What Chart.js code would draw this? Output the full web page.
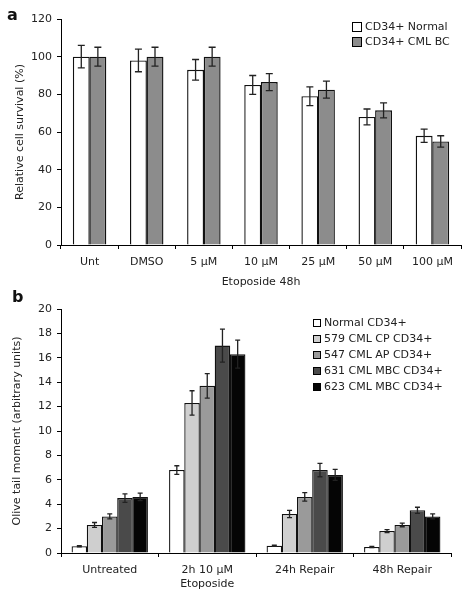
<!DOCTYPE html>
<html>
<head>
<meta charset="utf-8">
<script src="https://cdn.jsdelivr.net/npm/chart.js@4.4.1/dist/chart.umd.min.js"></script>
<style>
  html, body { margin: 0; padding: 0; background: #fff; }
  #wrapA { position: absolute; left: 0; top: 0; width: 470px; height: 290px; }
  #wrapB { position: absolute; left: 0; top: 290px; width: 470px; height: 310px; }
</style>
</head>
<body>
<div id="wrapA"><canvas id="chartA"></canvas></div>
<div id="wrapB"><canvas id="chartB"></canvas></div>
<script>
// panel a data
const labelsA = ['Unt', 'DMSO', '5 µM', '10 µM', '25 µM', '50 µM', '100 µM'];
const normalA = [100, 98, 93, 85, 79, 68, 58];
const normalErrA = [6, 6, 5.5, 5, 5, 4.2, 3.5];
const cmlA = [100, 100, 100, 86.5, 82.5, 71.5, 55];
const cmlErrA = [5, 5, 5, 4.5, 4.5, 4, 3];
const ticksA = [0, 20, 40, 60, 80, 100, 120];

// panel b data
const labelsB = ['Untreated', ['2h 10 µM', 'Etoposide'], '24h Repair', '48h Repair'];
const normalB = [0.55, 6.8, 0.6, 0.5];
const normalErrB = [0.05, 0.35, 0.05, 0.05];
const cpB = [2.3, 12.3, 3.2, 1.8];
const cpErrB = [0.2, 1.0, 0.3, 0.12];
const apB = [3.0, 13.7, 4.6, 2.3];
const apErrB = [0.2, 1.0, 0.35, 0.15];
const mbc631B = [4.5, 17.0, 6.8, 3.5];
const mbc631ErrB = [0.35, 1.35, 0.55, 0.25];
const mbc623B = [4.6, 16.3, 6.4, 3.0];
const mbc623ErrB = [0.3, 1.15, 0.45, 0.2];
const ticksB = [0, 2, 4, 6, 8, 10, 12, 14, 16, 18, 20];

Chart.defaults.font.family = 'DejaVu Sans';
Chart.defaults.font.size = 11;
Chart.defaults.color = '#222';
Chart.defaults.animation = false;

// error bars from dataset.errors
const errorBars = {
    id: 'errorBars',
    afterDatasetsDraw(chart, args, opts) {
        const ctx = chart.ctx;
        const y = chart.scales.y;
        ctx.save();
        ctx.strokeStyle = '#222';
        ctx.lineWidth = 1.3;
        chart.data.datasets.forEach((ds, di) => {
            const meta = chart.getDatasetMeta(di);
            meta.data.forEach((bar, i) => {
                const v = ds.data[i], e = ds.errors[i];
                const hi = y.getPixelForValue(v + e), lo = y.getPixelForValue(v - e);
                const c = opts.cap || 3;
                ctx.beginPath();
                ctx.moveTo(bar.x, hi); ctx.lineTo(bar.x, lo);
                ctx.moveTo(bar.x - c, hi); ctx.lineTo(bar.x + c, hi);
                ctx.moveTo(bar.x - c, lo); ctx.lineTo(bar.x + c, lo);
                ctx.stroke();
            });
        });
        ctx.restore();
    }
};

// legend + panel letter
const sideLegend = {
    id: 'sideLegend',
    afterDraw(chart, args, opts) {
        const ctx = chart.ctx;
        ctx.save();
        ctx.font = '11px "DejaVu Sans"';
        ctx.textBaseline = 'middle';
        chart.data.datasets.forEach((ds, i) => {
            const yy = opts.y + i * opts.step;
            ctx.fillStyle = ds.backgroundColor;
            ctx.fillRect(opts.x, yy - opts.box / 2, opts.box, opts.box);
            ctx.strokeStyle = '#000';
            ctx.lineWidth = 1;
            ctx.strokeRect(opts.x + 0.5, yy - opts.box / 2 + 0.5, opts.box - 1, opts.box - 1);
            ctx.fillStyle = '#222';
            ctx.fillText(ds.label, opts.x + opts.box + 3, yy);
        });
        ctx.font = 'bold 16px "DejaVu Sans"';
        ctx.textBaseline = 'alphabetic';
        ctx.fillStyle = '#111';
        ctx.fillText(opts.letter, opts.lx, opts.ly);
        ctx.restore();
    }
};

function axes(ticks, yTitle, xTitle, xHeight, yPad) {
    const x = {
        grid: { drawOnChartArea: false, color: '#000', tickLength: 4 },
        border: { color: '#000', width: 1 },
        ticks: { padding: 7, color: '#222' },
        afterFit: s => { s.height = xHeight; }
    };
    if (xTitle) x.title = { display: true, text: xTitle, padding: { top: 1, bottom: 1 } };
    return {
        x: x,
        y: {
            min: ticks[0], max: ticks[ticks.length - 1],
            afterBuildTicks: s => { s.ticks = ticks.map(v => ({ value: v })); },
            grid: { drawOnChartArea: false, color: '#000', tickLength: 4 },
            border: { color: '#000', width: 1 },
            ticks: { padding: 5, color: '#222' },
            title: { display: true, text: yTitle, padding: { top: yPad, bottom: 0 } },
            afterFit: s => { s.width = 61; }
        }
    };
}

new Chart(document.getElementById('chartA'), {
    type: 'bar',
    data: {
        labels: labelsA,
        datasets: [
            { label: 'CD34+ Normal', data: normalA, errors: normalErrA, backgroundColor: '#ffffff' },
            { label: 'CD34+ CML BC', data: cmlA, errors: cmlErrA, backgroundColor: '#8c8c8c' }
        ]
    },
    options: {
        responsive: true,
        maintainAspectRatio: false,
        layout: { padding: { left: 0, right: 9, top: 19, bottom: 0 } },
        datasets: { bar: { borderColor: '#111', borderWidth: 1.4, categoryPercentage: 0.58, barPercentage: 1.02 } },
        plugins: {
            legend: { display: false },
            tooltip: { enabled: false },
            errorBars: { cap: 3.5 },
            sideLegend: { x: 352, y: 27, step: 15, box: 10, letter: 'a', lx: 7, ly: 20 }
        },
        scales: axes(ticksA, 'Relative cell survival (%)', 'Etoposide 48h', 45, 14)
    },
    plugins: [errorBars, sideLegend]
});

new Chart(document.getElementById('chartB'), {
    type: 'bar',
    data: {
        labels: labelsB,
        datasets: [
            { label: 'Normal CD34+', data: normalB, errors: normalErrB, backgroundColor: '#ffffff' },
            { label: '579 CML CP CD34+', data: cpB, errors: cpErrB, backgroundColor: '#cfcfcf' },
            { label: '547 CML AP CD34+', data: apB, errors: apErrB, backgroundColor: '#9a9a9a' },
            { label: '631 CML MBC CD34+', data: mbc631B, errors: mbc631ErrB, backgroundColor: '#4a4a4a' },
            { label: '623 CML MBC CD34+', data: mbc623B, errors: mbc623ErrB, backgroundColor: '#050505' }
        ]
    },
    options: {
        responsive: true,
        maintainAspectRatio: false,
        layout: { padding: { left: 0, right: 19, top: 19, bottom: 0 } },
        datasets: { bar: { borderColor: '#111', borderWidth: 1.3, categoryPercentage: 0.78, barPercentage: 1.02 } },
        plugins: {
            legend: { display: false },
            tooltip: { enabled: false },
            errorBars: { cap: 2.5 },
            sideLegend: { x: 313, y: 33, step: 16, box: 8, letter: 'b', lx: 12, ly: 12 }
        },
        scales: axes(ticksB, 'Olive tail moment (arbitrary units)', null, 47, 11)
    },
    plugins: [errorBars, sideLegend]
});
</script>
</body>
</html>
